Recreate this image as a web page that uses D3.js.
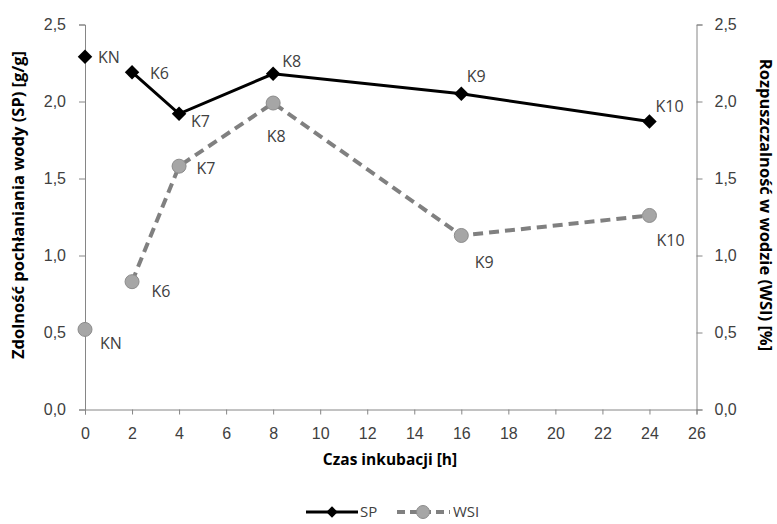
<!DOCTYPE html>
<html><head><meta charset="utf-8">
<script src="https://cdn.jsdelivr.net/npm/d3@7"></script>
<style>body{margin:0;background:#fff}svg{display:block;font-family:"Open Sans",sans-serif}</style>
</head><body><svg id="c" width="777" height="524"></svg>
<script>
const hours = [0, 2, 4, 8, 16, 24];
const labels = ["KN", "K6", "K7", "K8", "K9", "K10"];
const spValues = [2.29, 2.19, 1.92, 2.18, 2.05, 1.87];
const wsiValues = [0.52, 0.83, 1.58, 1.99, 1.13, 1.26];
const xTicks = [0,2,4,6,8,10,12,14,16,18,20,22,24,26];
const yTicks = [0, 0.5, 1.0, 1.5, 2.0, 2.5];
// label offsets: [text start dx, baseline dy] relative to the point
const spLabelOffsets = [[13,6],[18,7],[12,13.5],[9,-6.5],[5.5,-12],[6,-9.5]];
const wsiLabelOffsets = [[15,20],[19.5,15],[17.5,7.5],[-6.5,39],[13.5,33],[7,30.5]];

const svg = d3.select("#c");
const x = d3.scaleLinear().domain([0,26]).range([85,696.5]);
const yL = d3.scaleLinear().domain([0,2.5]).range([409.5,24.5]);
const yR = d3.scaleLinear().domain([0,2.5]).range([409.5,24.5]);
const fmt = d => d.toFixed(1).replace(".", ",");
const axisCol = "#868686", textCol = "#404040";
const fs = "16px";

function styleAxis(g){
  g.select(".domain").attr("stroke", axisCol);
  g.selectAll(".tick line").attr("stroke", axisCol);
  g.selectAll(".tick text").attr("fill", textCol).style("font-size",fs);
}
svg.append("g").attr("transform","translate(0,409.5)")
  .call(d3.axisBottom(x).tickValues(xTicks).tickSizeOuter(0).tickSize(5).tickPadding(13)).call(styleAxis);
svg.append("g").attr("transform","translate(85,0)")
  .call(d3.axisLeft(yL).tickValues(yTicks).tickFormat(fmt).tickSizeOuter(0).tickSize(6).tickPadding(13)).call(styleAxis);
svg.append("g").attr("transform","translate(696.5,0)")
  .call(d3.axisRight(yR).tickValues(yTicks).tickFormat(fmt).tickSizeOuter(0).tickSize(6).tickPadding(12)).call(styleAxis);

// titles
svg.append("text").attr("x",390).attr("y",465).attr("text-anchor","middle")
  .style("font-size","15.5px").style("font-weight","bold").attr("fill","#000").text("Czas inkubacji [h]");
svg.append("text").attr("transform","translate(24,205) rotate(-90)").attr("text-anchor","middle")
  .style("font-size","16.5px").style("font-weight","bold").attr("fill","#000").text("Zdolność pochłaniania wody (SP) [g/g]");
svg.append("text").attr("transform","translate(760,205) rotate(90)").attr("text-anchor","middle")
  .style("font-size","16.5px").style("font-weight","bold").attr("fill","#000").text("Rozpuszczalność w wodzie (WSI) [%]");

const spData = hours.map((h,i)=>({h, v:spValues[i], l:labels[i], o:spLabelOffsets[i]}));
const wsiData = hours.map((h,i)=>({h, v:wsiValues[i], l:labels[i], o:wsiLabelOffsets[i]}));

// WSI line (first point not connected, as in reference)
const lineR = d3.line().x(d=>x(d.h)).y(d=>yR(d.v));
svg.append("path").datum(wsiData.slice(1)).attr("d", lineR).attr("fill","none")
  .attr("stroke","#808080").attr("stroke-width",4).attr("stroke-dasharray","10,6");
svg.selectAll(".wsiPt").data(wsiData).join("circle").attr("cx",d=>x(d.h)).attr("cy",d=>yR(d.v)).attr("r",7)
  .attr("fill","#a6a6a6").attr("stroke","#8c8c8c").attr("stroke-width",1);

const lineL = d3.line().x(d=>x(d.h)).y(d=>yL(d.v));
svg.append("path").datum(spData.slice(1)).attr("d", lineL).attr("fill","none")
  .attr("stroke","#000").attr("stroke-width",3);
svg.selectAll(".spPt").data(spData).join("path")
  .attr("transform",d=>`translate(${x(d.h)},${yL(d.v)}) rotate(45)`)
  .attr("d", d3.symbol().type(d3.symbolSquare).size(105)).attr("fill","#000");

svg.selectAll(".spLab").data(spData).join("text")
  .attr("x",d=>x(d.h)+d.o[0]).attr("y",d=>yL(d.v)+d.o[1])
  .style("font-size",fs).attr("fill",textCol).text(d=>d.l);
svg.selectAll(".wsiLab").data(wsiData).join("text")
  .attr("x",d=>x(d.h)+d.o[0]).attr("y",d=>yR(d.v)+d.o[1])
  .style("font-size",fs).attr("fill",textCol).text(d=>d.l);

// legend
const lg = svg.append("g");
const ly = 512;
lg.append("line").attr("x1",306).attr("x2",358).attr("y1",ly).attr("y2",ly).attr("stroke","#000").attr("stroke-width",3);
lg.append("path").attr("transform",`translate(332,${ly}) rotate(45)`).attr("d", d3.symbol().type(d3.symbolSquare).size(65)).attr("fill","#000");
lg.append("text").attr("x",360).attr("y",ly+5).style("font-size","15px").attr("fill",textCol).text("SP");
lg.append("line").attr("x1",397).attr("x2",450).attr("y1",ly).attr("y2",ly).attr("stroke","#808080").attr("stroke-width",4).attr("stroke-dasharray","8,5");
lg.append("circle").attr("cx",423).attr("cy",ly).attr("r",6.5).attr("fill","#a6a6a6").attr("stroke","#8c8c8c");
lg.append("text").attr("x",453).attr("y",ly+5).style("font-size","15px").attr("fill",textCol).text("WSI");
</script></body></html>
